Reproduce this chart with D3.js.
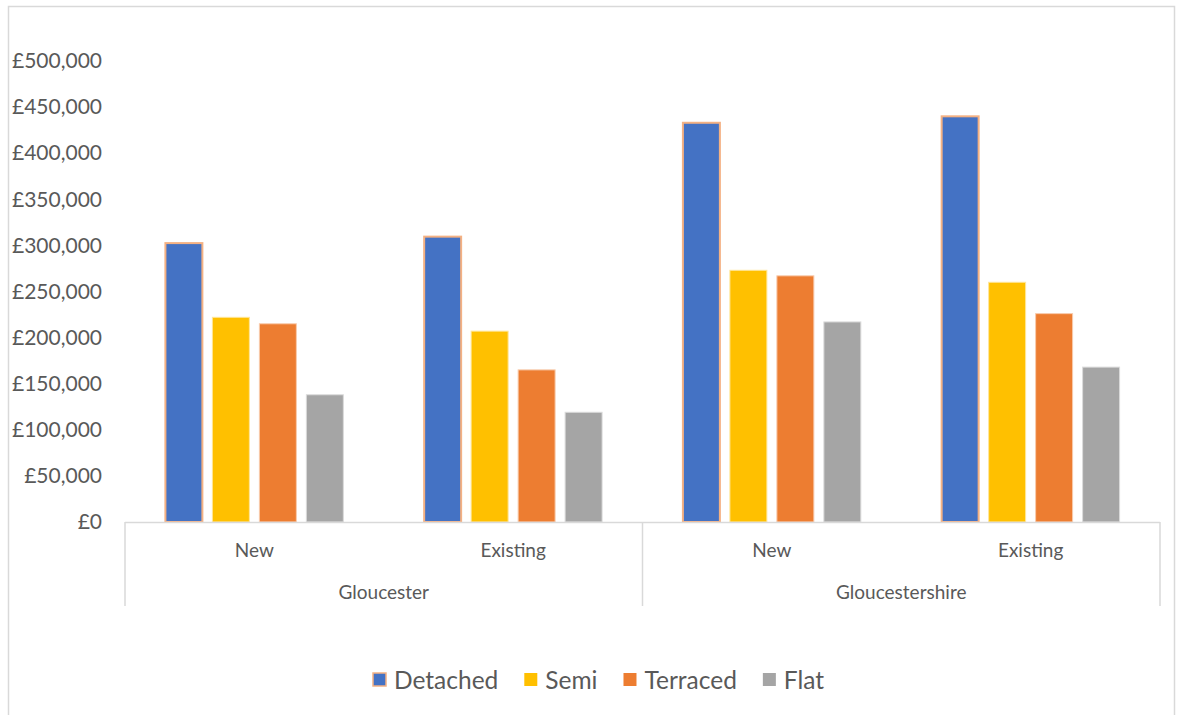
<!DOCTYPE html>
<html>
<head>
<meta charset="utf-8">
<title>House prices</title>
<style>
  body { margin: 0; background: #fff; }
  svg text { font-family: Lato, "Open Sans", sans-serif; fill: #595959; }
</style>
</head>
<body>
<div id="chart"></div>
<script src="https://cdn.jsdelivr.net/npm/d3@7"></script>
<script>
// data
var areas = ["Gloucester", "Gloucestershire"];
var stock = ["New", "Existing"];
var series = ["Detached", "Semi", "Terraced", "Flat"];
var detached = [302500, 309500, 433000, 440000];
var semi = [222000, 207000, 273000, 260000];
var terraced = [215000, 165000, 267000, 226000];
var flat = [138000, 119000, 217000, 168000];
var yTicks = [0, 50000, 100000, 150000, 200000, 250000, 300000, 350000, 400000, 450000, 500000];
var colors = ["#4472C4", "#FFC000", "#ED7D31", "#A5A5A5"];
var outlines = ["#F4B183", "#FFE699", "#F8CBAD", "#DBDBDB"];

var values = [detached, semi, terraced, flat];

var w = 1178, h = 715;
var plotLeft = 125, plotRight = 1160, plotTop = 61, base = 522;

// one entry per leaf category
var cats = [];
areas.forEach(function (a) {
  stock.forEach(function (s) { cats.push(a + "|" + s); });
});

var svg = d3.select("#chart").append("svg")
  .attr("width", w)
  .attr("height", h);

// chart border
svg.append("rect")
  .attr("x", 8.5).attr("y", 6.5)
  .attr("width", 1166).attr("height", 720)
  .attr("fill", "none")
  .attr("stroke", "#d9d9d9")
  .attr("stroke-width", 1.5);

var y = d3.scaleLinear().domain([0, 500000]).range([base, plotTop]);

var x0 = d3.scaleBand().domain(cats).range([plotLeft, plotRight]);
var x1 = d3.scaleBand().domain(series)
  .range([0, x0.bandwidth()])
  .paddingInner(0.213)
  .paddingOuter(0.86);

// y axis labels (no line, no grid)
var yAxis = d3.axisLeft(y)
  .tickValues(yTicks)
  .tickSize(0)
  .tickPadding(0)
  .tickFormat(function (d) { return "£" + d3.format(",")(d); });

var gy = svg.append("g")
  .attr("transform", "translate(102,0)")
  .call(yAxis);
gy.select(".domain").remove();
gy.selectAll("text")
  .attr("font-size", "21px")
  .attr("fill", "#595959")
  .attr("font-family", "Lato, 'Open Sans', sans-serif");

// bars
var bars = [];
series.forEach(function (s, si) {
  cats.forEach(function (c, ci) {
    bars.push({ cat: c, series: s, si: si, value: values[si][ci] });
  });
});

svg.append("g").selectAll("rect")
  .data(bars)
  .enter()
  .append("rect")
  .attr("x", function (d) { return x0(d.cat) + x1(d.series); })
  .attr("y", function (d) { return y(d.value); })
  .attr("width", x1.bandwidth())
  .attr("height", function (d) { return base - y(d.value); })
  .attr("fill", function (d) { return colors[d.si]; })
  .attr("stroke", function (d) { return outlines[d.si]; })
  .attr("stroke-width", function (d) { return d.si === 0 ? 2 : 1; });

// category axis: baseline + dividers
var axisCol = "#d9d9d9";
svg.append("line")
  .attr("x1", plotLeft).attr("x2", plotRight)
  .attr("y1", base + 0.5).attr("y2", base + 0.5)
  .attr("stroke", axisCol).attr("stroke-width", 1.5);

var dividers = [plotLeft].concat(areas.map(function (a) {
  return x0(a + "|" + stock[stock.length - 1]) + x0.bandwidth();
}));
svg.append("g").selectAll("line")
  .data(dividers)
  .enter()
  .append("line")
  .attr("x1", function (d) { return d; })
  .attr("x2", function (d) { return d; })
  .attr("y1", base)
  .attr("y2", 606)
  .attr("stroke", axisCol)
  .attr("stroke-width", 1.5);

svg.append("g").selectAll("text")
  .data(cats)
  .enter()
  .append("text")
  .attr("x", function (d) { return x0(d) + x0.bandwidth() / 2; })
  .attr("y", 557)
  .attr("text-anchor", "middle")
  .attr("font-size", "19px")
  .text(function (d) { return d.split("|")[1]; });

svg.append("g").selectAll("text")
  .data(areas)
  .enter()
  .append("text")
  .attr("x", function (a) {
    return (x0(a + "|" + stock[0]) + x0(a + "|" + stock[stock.length - 1]) + x0.bandwidth()) / 2;
  })
  .attr("y", 599)
  .attr("text-anchor", "middle")
  .attr("font-size", "19px")
  .text(function (a) { return a; });

// legend
var legend = svg.append("g").attr("transform", "translate(0,680)");
var lx = 373;
series.forEach(function (s, i) {
  var item = legend.append("g").attr("transform", "translate(" + lx + ",0)");
  item.append("rect")
    .attr("x", 0).attr("y", -7)
    .attr("width", 13).attr("height", 13)
    .attr("fill", colors[i])
    .attr("stroke", i === 0 ? outlines[0] : "none")
    .attr("stroke-width", 1.5);
  var t = item.append("text")
    .attr("x", 21).attr("y", 8.5)
    .attr("font-size", "24.5px")
    .text(s);
  lx += 21 + t.node().getComputedTextLength() + 26;
});
</script>
</body>
</html>
